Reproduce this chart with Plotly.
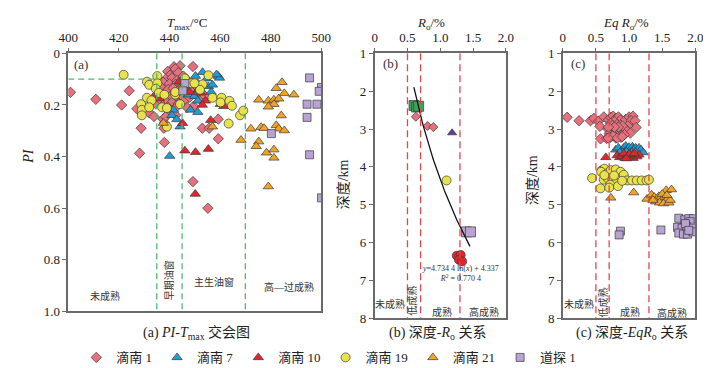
import numpy as np
import plotly.graph_objects as go

FONT = "Liberation Serif, Noto Sans CJK SC, serif"
W, H = 711, 368

# ---------------- data: panel (a) PI - Tmax ----------------
a_dn1_t = [400.9, 410.9, 421.1, 424.1, 427.1, 428.8, 428.2, 432.0, 433.9, 437.5, 438.0, 437.8,
           439.3, 441.8, 444.2, 449.3, 442.3, 440.2, 443.5, 445.5, 438.5, 441.0, 443.0, 446.5,
           437.5, 440.0, 442.5, 445.0, 447.5, 436.5, 439.5, 441.5, 444.0, 446.0, 448.5, 437.5,
           440.5, 443.0, 445.0, 438.5, 441.0, 443.5, 446.0, 448.0, 437.0, 439.5, 442.0, 440.0,
           442.5, 438.5, 450.5, 452.3, 449.5, 453.0, 455.7, 459.3, 459.3, 449.3, 455.2, 438.0,
           434.5, 436.0, 447.0, 451.5, 454.0]
a_dn1_pi = [0.151, 0.178, 0.200, 0.145, 0.215, 0.290, 0.387, 0.230, 0.245, 0.255, 0.270, 0.290,
            0.070, 0.052, 0.048, 0.051, 0.060, 0.085, 0.075, 0.088, 0.100, 0.095, 0.105, 0.100,
            0.112, 0.118, 0.120, 0.125, 0.118, 0.130, 0.140, 0.135, 0.140, 0.150, 0.145, 0.160,
            0.165, 0.170, 0.165, 0.185, 0.190, 0.195, 0.185, 0.170, 0.200, 0.210, 0.215, 0.230,
            0.240, 0.245, 0.160, 0.180, 0.205, 0.290, 0.290, 0.255, 0.331, 0.497, 0.600, 0.345,
            0.195, 0.175, 0.210, 0.135, 0.165]

a_dn7_t = [450.3, 453.1, 454.7, 459.3, 459.8, 458.6, 451.2, 455.4, 457.0, 451.9, 447.4, 449.9,
           451.2, 448.3, 451.2, 441.6, 441.0, 442.9, 444.2, 440.1, 456.5]
a_dn7_pi = [0.088, 0.073, 0.098, 0.088, 0.095, 0.082, 0.116, 0.128, 0.122, 0.135, 0.160, 0.166,
            0.184, 0.219, 0.228, 0.219, 0.240, 0.256, 0.284, 0.398, 0.150]

a_dn10_t = [434.2, 436.0, 443.8, 449.9, 451.5, 452.4, 454.2, 453.0, 460.1, 461.5, 456.3, 445.2,
            446.1, 450.3, 455.4, 450.2, 448.0]
a_dn10_pi = [0.162, 0.175, 0.110, 0.122, 0.140, 0.153, 0.184, 0.200, 0.197, 0.205, 0.259, 0.271,
             0.377, 0.383, 0.371, 0.545, 0.150]

a_dn19_t = [421.9, 435.2, 431.1, 432.0, 435.2, 434.6, 435.8, 438.0, 431.1, 432.9, 428.8, 429.1,
            429.1, 432.0, 437.1, 439.0, 439.0, 442.3, 446.7, 446.1, 448.6, 455.4, 457.0, 460.6,
            460.2, 463.7, 464.7, 467.9, 469.2, 463.4, 453.1, 452.1, 449.9, 445.4, 442.3, 444.2]
a_dn19_pi = [0.083, 0.088, 0.110, 0.122, 0.116, 0.137, 0.153, 0.160, 0.172, 0.182, 0.197, 0.219,
             0.240, 0.209, 0.209, 0.212, 0.284, 0.160, 0.116, 0.097, 0.116, 0.085, 0.172, 0.172,
             0.190, 0.184, 0.203, 0.240, 0.222, 0.272, 0.120, 0.141, 0.116, 0.137, 0.150, 0.197]

a_dn21_t = [437.6, 457.0, 468.3, 472.2, 475.3, 484.5, 482.2, 485.4, 489.2, 479.1, 481.3, 483.2,
            481.3, 479.1, 484.2, 476.2, 477.4, 482.2, 483.2, 485.4, 475.3, 474.3, 478.4, 481.3,
            481.3, 479.1]
a_dn21_pi = [0.270, 0.284, 0.336, 0.292, 0.180, 0.112, 0.135, 0.155, 0.160, 0.184, 0.180, 0.176,
             0.197, 0.207, 0.241, 0.286, 0.290, 0.279, 0.292, 0.299, 0.342, 0.360, 0.385, 0.373,
             0.405, 0.516]

a_dt1_t = [446.1, 445.3, 495.4, 500.1, 499.2, 494.4, 498.3, 494.4, 480.3, 495.4, 500.1]
a_dt1_pi = [0.117, 0.145, 0.095, 0.132, 0.147, 0.197, 0.197, 0.248, 0.311, 0.393, 0.560]

# ---------------- data: panel (b) depth - Ro ----------------
b_green_ro = [0.60, 0.64, 0.67]
b_green_d = [2.38, 2.42, 2.40]
b_dn1_ro = [0.627, 0.805, 0.894]
b_dn1_d = [2.675, 2.92, 2.95]
b_purple_ro = [1.18]
b_purple_d = [3.10]
b_dn19_ro = [1.096]
b_dn19_d = [4.36]
b_dt1_ro = [1.40, 1.46]
b_dt1_d = [5.72, 5.72]
b_red_ro = [1.252, 1.311, 1.285, 1.333]
b_red_d = [6.35, 6.33, 6.46, 6.50]
fit_a, fit_b = 4.7344, 4.337
fit_ro_min, fit_ro_max = 0.597, 1.452

# ---------------- data: panel (c) depth - EqRo ----------------
c_dn1_ro = [0.066, 0.246, 0.418, 0.47, 0.54, 0.56, 0.57, 0.62, 0.69, 0.725, 0.76, 0.80, 0.84, 0.87,
            0.78, 0.72, 0.75, 0.82, 0.90, 0.95, 1.00, 1.06, 1.03, 1.09, 1.106, 0.98, 0.93, 0.86,
            0.80, 0.74, 0.68, 0.70, 0.78, 0.85, 0.92, 0.97, 0.72, 0.80, 0.88, 0.76, 0.66, 0.90,
            0.84, 0.78, 0.69, 1.018, 0.93, 0.686, 0.823, 0.896]
c_dn1_d = [2.69, 2.78, 2.78, 2.72, 2.79, 2.93, 3.26, 2.68, 2.76, 2.69, 2.66, 2.72, 2.68, 2.76,
           2.80, 2.85, 2.90, 2.88, 2.85, 2.75, 2.68, 2.66, 2.78, 2.78, 2.96, 2.92, 2.98, 3.00,
           3.00, 3.05, 3.00, 3.12, 3.12, 3.15, 3.10, 3.05, 3.22, 3.24, 3.22, 3.18, 3.25, 2.92,
           2.95, 2.95, 2.95, 3.11, 3.15, 3.24, 3.24, 3.20]

c_dn7_ro = [0.80, 0.84, 0.88, 0.92, 0.95, 0.98, 1.00, 1.02, 1.05, 1.07, 1.10, 1.12, 1.15, 1.18,
            1.21, 0.90, 0.96, 1.04, 1.09, 0.86]
c_dn7_d = [3.55, 3.50, 3.58, 3.50, 3.45, 3.52, 3.48, 3.56, 3.47, 3.53, 3.50, 3.58, 3.50, 3.55,
           3.62, 3.62, 3.60, 3.62, 3.60, 3.62]

c_dn10_ro = [0.65, 0.82, 0.86, 0.90, 0.94, 0.98, 1.00, 1.03, 1.06, 1.09, 1.12, 1.15, 0.92, 1.01,
             1.08, 0.96]
c_dn10_d = [3.75, 3.70, 3.75, 3.72, 3.77, 3.70, 3.75, 3.72, 3.77, 3.70, 3.73, 3.68, 3.65, 3.66,
            3.65, 3.78]

c_dn19_ro = [0.442, 0.569, 0.588, 0.628, 0.618, 0.579, 0.676, 0.725, 0.799, 0.872, 0.920, 0.970,
             1.043, 1.116, 1.190, 1.263, 1.300, 0.676, 0.750, 0.799, 0.716, 0.701, 0.833, 0.628,
             0.774, 0.896]
c_dn19_d = [4.30, 4.57, 4.09, 4.05, 4.34, 4.13, 4.17, 4.09, 4.07, 4.13, 4.21, 4.36, 4.36, 4.36,
            4.36, 4.36, 4.34, 4.30, 4.34, 4.43, 4.47, 4.55, 4.51, 4.22, 4.23, 4.37]

c_dn21_ro = [0.725, 1.07, 1.27, 1.34, 1.56, 1.64, 1.38, 1.42, 1.45, 1.48, 1.50, 1.53, 1.55, 1.58,
             1.40, 1.46, 1.52, 1.60, 1.62, 1.36, 1.50, 1.57]
c_dn21_d = [4.82, 4.68, 4.85, 4.74, 4.62, 4.60, 4.80, 4.85, 4.78, 4.82, 4.88, 4.80, 4.90, 4.85,
            4.92, 4.95, 4.97, 4.95, 4.88, 4.88, 4.72, 4.75]

c_dt1_ro = [0.87, 0.85, 1.48, 1.75, 1.84, 1.90, 1.97, 1.92, 1.73, 1.80, 1.87, 1.95, 1.75, 1.82,
            1.88, 1.96, 1.85, 1.90]
c_dt1_d = [5.70, 5.80, 5.67, 5.36, 5.40, 5.37, 5.37, 5.45, 5.60, 5.62, 5.58, 5.62, 5.75, 5.78,
           5.78, 5.72, 5.50, 5.68]

# tick labels
a_x_ticks = [400, 420, 440, 460, 480, 500]
a_y_ticks = [0, 0.2, 0.4, 0.6, 0.8, 1.0]
a_y_ticktext = ["0", "0.2", "0.4", "0.6", "0.8", "1.0"]
ro_ticks = [0, 0.5, 1.0, 1.5, 2.0]
ro_ticktext = ["0", "0.5", "1.0", "1.5", "2.0"]
depth_ticks = [1, 2, 3, 4, 5, 6, 7, 8]

# ---------------- styles ----------------
OUT = dict(color="#3a3a3a", width=0.7)
STY = {
    "滴南 1": dict(symbol="diamond", color="#E6717D", size=8),
    "滴南 7": dict(symbol="triangle-up", color="#239BD6", size=9),
    "滴南 10": dict(symbol="triangle-up", color="#E1262B", size=9),
    "滴南 19": dict(symbol="circle", color="#E8E24C", size=9),
    "滴南 21": dict(symbol="triangle-up", color="#F0A325", size=9),
    "道探 1": dict(symbol="square", color="#B8A3D2", size=8),
}
ORDER = ["滴南 1", "滴南 7", "滴南 10", "滴南 19", "滴南 21", "道探 1"]

fig = go.Figure()


def add(name, x, y, xa, ya, showlegend=False, size=None, color=None, symbol=None):
    s = STY.get(name, {})
    fig.add_trace(go.Scatter(
        x=x, y=y, mode="markers", name=name, legendgroup=name, showlegend=showlegend,
        xaxis=xa, yaxis=ya,
        marker=dict(symbol=symbol or s.get("symbol"), color=color or s.get("color"),
                    size=size or s.get("size"), line=OUT, opacity=1),
        hoverinfo="skip"))


A = {"滴南 1": (a_dn1_t, a_dn1_pi), "滴南 7": (a_dn7_t, a_dn7_pi), "滴南 10": (a_dn10_t, a_dn10_pi),
     "滴南 19": (a_dn19_t, a_dn19_pi), "滴南 21": (a_dn21_t, a_dn21_pi), "道探 1": (a_dt1_t, a_dt1_pi)}
for n in ORDER:
    add(n, A[n][0], A[n][1], "x", "y", showlegend=True)

# panel (b)
add("b_green", b_green_ro, b_green_d, "x2", "y2", size=10, color="#3BA55C", symbol="square")
add("滴南 1", b_dn1_ro, b_dn1_d, "x2", "y2", size=7)
add("b_purple", b_purple_ro, b_purple_d, "x2", "y2", size=8, color="#5A3E9B", symbol="triangle-up")
add("滴南 19", b_dn19_ro, b_dn19_d, "x2", "y2")
add("道探 1", b_dt1_ro, b_dt1_d, "x2", "y2", size=10)
add("b_red", b_red_ro, b_red_d, "x2", "y2", size=9, color="#E1262B", symbol="circle")
fit_ro = np.linspace(fit_ro_min, fit_ro_max, 60)
fig.add_trace(go.Scatter(x=fit_ro, y=fit_a * np.log(fit_ro) + fit_b, mode="lines",
                         line=dict(color="#111", width=1.3), showlegend=False,
                         xaxis="x2", yaxis="y2", hoverinfo="skip"))

# panel (c)
C = {"滴南 1": (c_dn1_ro, c_dn1_d), "滴南 7": (c_dn7_ro, c_dn7_d), "滴南 10": (c_dn10_ro, c_dn10_d),
     "滴南 19": (c_dn19_ro, c_dn19_d), "滴南 21": (c_dn21_ro, c_dn21_d), "道探 1": (c_dt1_ro, c_dt1_d)}
for n in ORDER:
    add(n, C[n][0], C[n][1], "x3", "y3")

# ---------------- layout ----------------
AX = dict(showline=True, linecolor="#6a6a6a", linewidth=1.5, mirror=True, ticks="outside",
          ticklen=4, tickwidth=1.2, tickcolor="#6a6a6a", showgrid=False, zeroline=False,
          tickfont=dict(family=FONT, size=13, color="#222"))


def px_x(p):
    return p / W


def px_y(p):
    return 1 - p / H


layout = dict(
    width=W, height=H, margin=dict(l=0, r=0, t=0, b=0),
    paper_bgcolor="white", plot_bgcolor="white",
    font=dict(family=FONT, size=13, color="#222"),
    xaxis=dict(AX, domain=[px_x(51.7), px_x(312)], range=[400, 500], side="top", anchor="y",
               tickvals=a_x_ticks),
    yaxis=dict(AX, domain=[px_y(309), px_y(40)], range=[1.0, 0], anchor="x",
               tickvals=a_y_ticks, ticktext=a_y_ticktext),
    xaxis2=dict(AX, domain=[px_x(367), px_x(502)], range=[0, 2], side="top", anchor="y2",
                tickvals=ro_ticks, ticktext=ro_ticktext),
    yaxis2=dict(AX, domain=[px_y(316), px_y(40)], range=[8, 1], anchor="x2", tickvals=depth_ticks),
    xaxis3=dict(AX, domain=[px_x(560.5), px_x(697)], range=[0, 2], side="top", anchor="y3",
                tickvals=ro_ticks, ticktext=ro_ticktext),
    yaxis3=dict(AX, domain=[px_y(316), px_y(40)], range=[8, 1], anchor="x3", tickvals=depth_ticks),
    legend=dict(orientation="h", x=px_x(60), y=px_y(357), xanchor="left", yanchor="middle",
                font=dict(family=FONT, size=13, color="#222"), bgcolor="rgba(0,0,0,0)",
                itemwidth=30, tracegroupgap=0),
    showlegend=True,
)
fig.update_layout(**layout)

# dashed boundary lines
GREEN = dict(color="#52B86A", width=1.3, dash="6px,4px")
RED = dict(color="#E2474D", width=1.3, dash="7px,4px")
for t in [435, 445, 470]:
    fig.add_shape(type="line", xref="x", yref="y", x0=t, x1=t, y0=0, y1=1.0, line=GREEN)
fig.add_shape(type="line", xref="x", yref="y", x0=400, x1=435, y0=0.1, y1=0.1, line=GREEN)
for xr, yr in [("x2", "y2"), ("x3", "y3")]:
    for r in [0.5, 0.7, 1.3]:
        fig.add_shape(type="line", xref=xr, yref=yr, x0=r, x1=r, y0=1, y1=8, line=RED)

ann = []


def note(text, x, y, xref, yref, size=10, angle=0, xanchor="center", color="#333"):
    ann.append(dict(text=text, x=x, y=y, xref=xref, yref=yref, showarrow=False,
                    font=dict(family=FONT, size=size, color=color), textangle=angle,
                    xanchor=xanchor, yanchor="middle"))


# panel labels and zone labels
note("(a)", 401.3, 0.043, "x", "y", size=13, xanchor="left")
note("未成熟", 414.7, 0.939, "x", "y")
note("早期油窗", 440.1, 0.88, "x", "y", angle=-90)
note("主生油窗", 457.6, 0.886, "x", "y")
note("高—过成熟", 487.4, 0.907, "x", "y")

note("(b)", 0.10, 1.27, "x2", "y2", size=13, xanchor="left")
note("未成熟", 0.237, 7.64, "x2", "y2")
note("低成熟", 0.578, 7.55, "x2", "y2", angle=-90)
note("成熟", 1.022, 7.83, "x2", "y2")
note("高成熟", 1.66, 7.83, "x2", "y2")
ann.append(dict(text="<i>y</i>=4.734 4 ln(<i>x</i>) + 4.337<br><i>R</i><sup>2</sup> = 0.770 4",
                x=1.31, y=6.81, xref="x2", yref="y2", showarrow=False, align="center",
                font=dict(family=FONT, size=8, color="#333"), xanchor="center", yanchor="middle"))

note("(c)", 0.10, 1.27, "x3", "y3", size=13, xanchor="left")
note("未成熟", 0.246, 7.64, "x3", "y3")
note("低成熟", 0.60, 7.6, "x3", "y3", angle=-90)
note("成熟", 1.008, 7.85, "x3", "y3")
note("高成熟", 1.653, 7.87, "x3", "y3")

# axis titles
note("<i>T</i><sub>max</sub>/°C", px_x(174), px_y(9), "paper", "paper", size=13, color="#222")
note("<i>R</i><sub>o</sub>/%", px_x(425), px_y(9), "paper", "paper", size=13, color="#222")
note("<i>Eq R</i><sub>o</sub>/%", px_x(626), px_y(9), "paper", "paper", size=13, color="#222")
note("<i>PI</i>", px_x(10), px_y(147), "paper", "paper", size=14, angle=-90, color="#222")
note("深度/km", px_x(335), px_y(177), "paper", "paper", size=14, angle=-90, color="#222")
note("深度/km", px_x(530), px_y(172), "paper", "paper", size=14, angle=-90, color="#222")

# captions
note("(a) <i>PI</i>-<i>T</i><sub>max</sub> 交会图", px_x(184), px_y(332), "paper", "paper", size=14, color="#222")
note("(b) 深度-<i>R</i><sub>o</sub> 关系", px_x(432), px_y(332), "paper", "paper", size=14, color="#222")
note("(c) 深度-<i>EqR</i><sub>o</sub> 关系", px_x(632), px_y(332), "paper", "paper", size=14, color="#222")

fig.update_layout(annotations=ann)
fig.write_html("out.html")
